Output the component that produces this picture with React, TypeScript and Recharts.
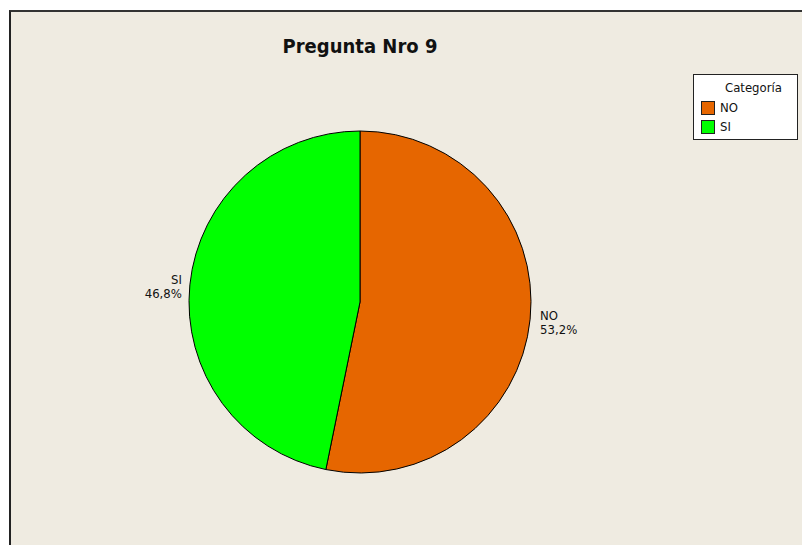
import React from 'react';
import { PieChart, Pie, Cell } from 'recharts';

const categories = ['NO', 'SI'];
const percentages = [53.2, 46.8];
const sliceColors = ['#E66600', '#00FF00'];

const pieData = categories.map((name, i) => ({ name, value: percentages[i] }));

const RADIAN = Math.PI / 180;
const labelFont = "'DejaVu Sans Condensed', 'DejaVu Sans', sans-serif";

const renderLabel = (props: any) => {
  const { cx, cy, outerRadius, midAngle, name, value } = props;
  const r = outerRadius + 8;
  const x = cx + r * Math.cos(-midAngle * RADIAN);
  const y = cy + r * Math.sin(-midAngle * RADIAN);
  const onRight = x > cx;
  const pct = value.toFixed(1).replace('.', ',') + '%';
  const tx = onRight ? x + 2 : x;
  return (
    <text x={tx} y={y} textAnchor={onRight ? 'start' : 'end'} fontSize={13} fontFamily={labelFont} fill="#111">
      <tspan x={tx} dy="0">{name}</tspan>
      <tspan x={tx} dy="14">{pct}</tspan>
    </text>
  );
};

const LegendBox = () => (
  <div
    style={{
      position: 'absolute',
      left: 693,
      top: 74,
      width: 105,
      height: 66,
      border: '1px solid #222',
      background: '#FFFFFF',
      boxSizing: 'border-box',
      fontFamily: labelFont,
      fontSize: 13,
      color: '#111',
    }}
  >
    <div style={{ position: 'absolute', left: 31, top: 5 }}>Categoría</div>
    {categories.map((c, i) => (
      <div key={c} style={{ position: 'absolute', left: 7, top: 25 + i * 19, display: 'flex', alignItems: 'center' }}>
        <span
          style={{
            display: 'inline-block',
            width: 12,
            height: 12,
            background: sliceColors[i],
            border: '1px solid #222',
            marginRight: 5,
          }}
        />
        <span>{c}</span>
      </div>
    ))}
  </div>
);

export default function App() {
  return (
    <div
      style={{
        position: 'absolute',
        left: 0,
        top: 0,
        width: 802,
        height: 545,
        background: '#FFFFFF',
        overflow: 'hidden',
      }}
    >
      <div
        style={{
          position: 'absolute',
          left: 9,
          top: 10,
          width: 802,
          bottom: 0,
          background: '#EFEBE1',
          borderLeft: '2px solid #222',
          borderTop: '2px solid #333',
        }}
      />
      <div
        style={{
          position: 'absolute',
          left: 210,
          top: 34,
          width: 300,
          textAlign: 'center',
          fontFamily: labelFont,
          fontWeight: 'bold',
          fontSize: 20,
          color: '#111',
        }}
      >
        Pregunta Nro 9
      </div>
      <div style={{ position: 'absolute', left: 0, top: 0 }}>
        <PieChart width={802} height={545} margin={{ top: 0, right: 0, bottom: 0, left: 0 }}>
          <Pie
            data={pieData}
            dataKey="value"
            nameKey="name"
            cx={360}
            cy={302}
            outerRadius={171}
            startAngle={90}
            endAngle={-270}
            stroke="#000"
            strokeWidth={1}
            label={renderLabel}
            labelLine={false}
            isAnimationActive={false}
          >
            {pieData.map((d, i) => (
              <Cell key={d.name} fill={sliceColors[i]} />
            ))}
          </Pie>
        </PieChart>
      </div>
      <LegendBox />
    </div>
  );
}
